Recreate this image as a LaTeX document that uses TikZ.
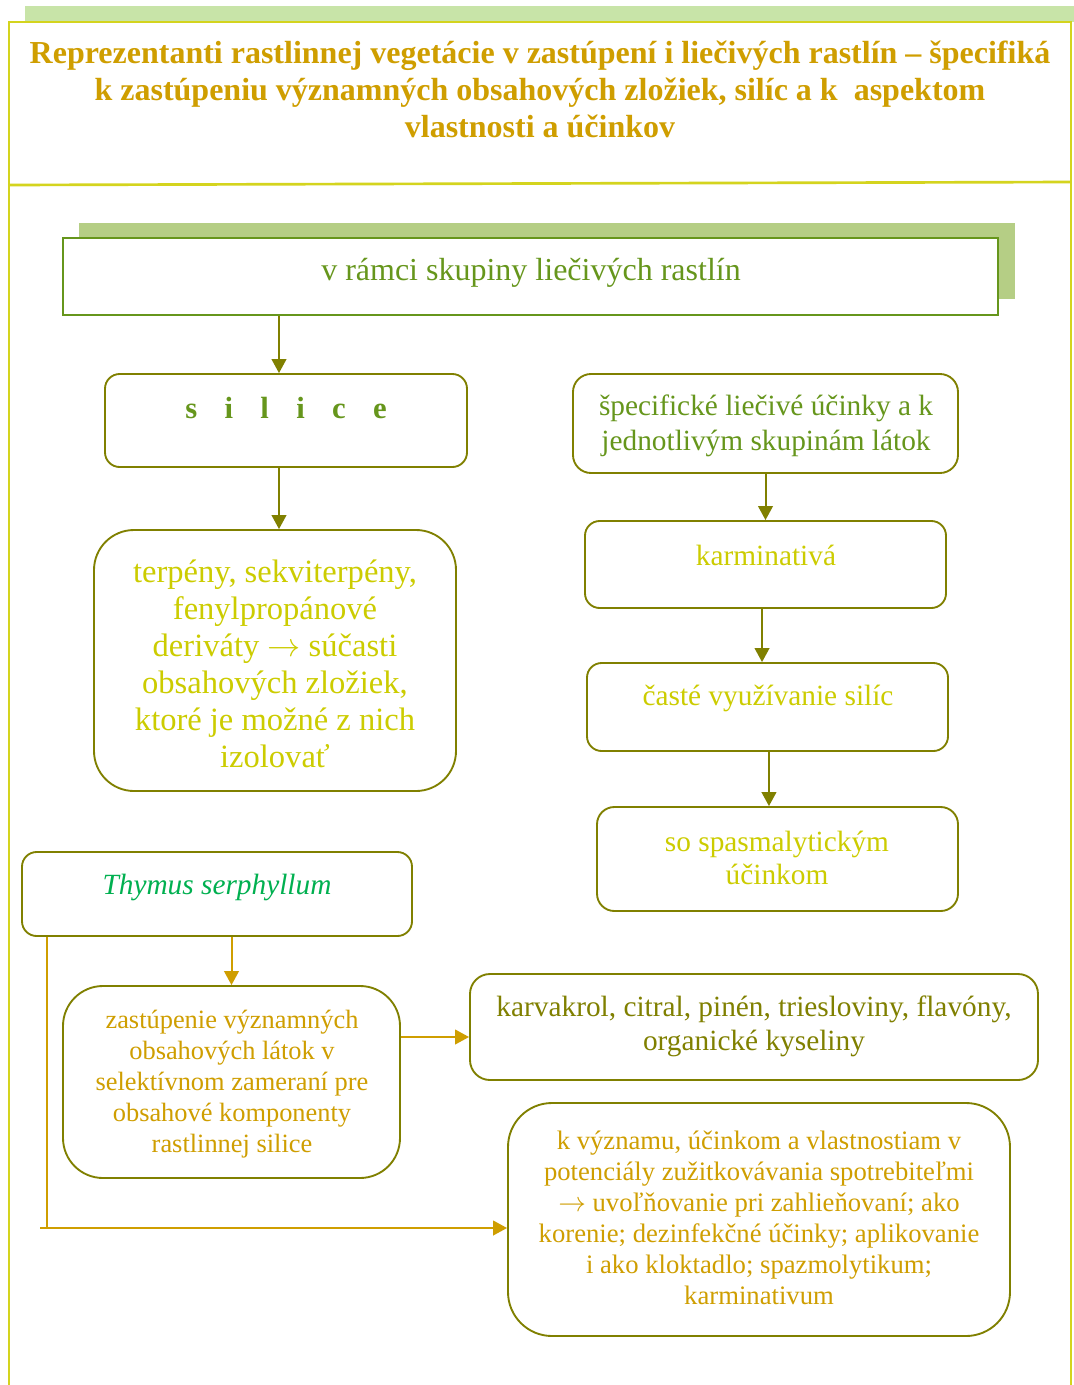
\documentclass[tikz,border=0pt]{standalone}
\usepackage{fontspec}
\setmainfont{Liberation Serif}
\usetikzlibrary{arrows.meta,calc}
\definecolor{gold}{RGB}{207,158,0}
\definecolor{olivel}{RGB}{128,128,0}
\definecolor{leaf}{RGB}{102,150,28}
\definecolor{lemon}{RGB}{204,204,0}
\definecolor{framec}{RGB}{212,212,30}
\definecolor{barfill}{RGB}{200,228,168}
\definecolor{shadowfill}{RGB}{181,206,133}
\definecolor{thyme}{RGB}{0,176,80}
\begin{document}
\begin{tikzpicture}[x=0.75pt,y=-0.75pt,
  box/.style={draw=olivel,line width=1.4pt,fill=white,inner sep=0pt},
  rbox/.style={box,rounded corners=#1},
  txt/.style={align=center,inner sep=0pt},
  arr/.style={draw=olivel,line width=1.5pt,-{Triangle[length=10.5pt,width=11pt]}},
  garr/.style={draw=gold,line width=1.5pt,-{Triangle[length=10.5pt,width=11pt]}},
  gline/.style={draw=gold,line width=1.5pt}]
\useasboundingbox (0,0) rectangle (1074,1385);
\fill[white] (0,0) rectangle (1074,1385);

% page frame with header band
\fill[barfill] (25,6) rectangle (1074,22);
\draw[framec,line width=2pt] (9,1385) -- (9,22) -- (1071,22) -- (1071,1385);
\draw[framec,line width=2pt] (9,185) -- (1071,182);

\node[txt,font=\fontsize{24pt}{27.75pt}\selectfont\bfseries,text=gold] (title) at (540,89)
  {Reprezentanti rastlinnej vegetácie v zastúpení i liečivých rastlín – špecifiká\\
   k zastúpeniu významných obsahových zložiek, silíc a k\ \ aspektom\\
   vlastnosti a účinkov};

% group heading with its shadow
\fill[shadowfill] (79,223) rectangle (1015,299);
\node[box,draw=leaf,minimum width=701.25pt,minimum height=57.75pt] (main) at (530.5,276.5) {};
\node[txt,font=\fontsize{24pt}{28pt}\selectfont,text=leaf] (maint) at (531,273) {v rámci skupiny liečivých rastlín};

% left column
\node[rbox=11pt,minimum width=271.5pt,minimum height=69.75pt] (silice) at (286,420.5) {};
\node[txt,font=\fontsize{23pt}{28pt}\selectfont\bfseries,text=leaf] (silicet) at (286,408)
  {s\hspace{20.5pt}i\hspace{20.5pt}l\hspace{20.5pt}i\hspace{20.5pt}c\hspace{20.5pt}e};

\node[rbox=30pt,minimum width=271.5pt,minimum height=195.75pt] (terp) at (275,660.5) {};
\node[txt,font=\fontsize{24.4pt}{27.75pt}\selectfont,text=lemon] (terpt) at (275,664)
  {terpény, sekviterpény,\\ fenylpropánové\\ deriváty $\rightarrow$ súčasti\\ obsahových zložiek,\\ ktoré je možné z nich\\ izolovať};

% right column
\node[rbox=13.5pt,minimum width=288.75pt,minimum height=74.25pt] (spec) at (765.5,423.5) {};
\node[txt,font=\fontsize{22pt}{26.25pt}\selectfont,text=leaf] (spect) at (766,426)
  {špecifické liečivé účinky a k\\ jednotlivým skupinám látok};

\node[rbox=11pt,minimum width=270.75pt,minimum height=65.25pt] (karm) at (765.5,564.5) {};
\node[txt,font=\fontsize{22pt}{26pt}\selectfont,text=lemon] (karmt) at (766,555) {karminativá};

\node[rbox=11pt,minimum width=270.75pt,minimum height=66pt] (caste) at (767.5,707) {};
\node[txt,font=\fontsize{22pt}{26pt}\selectfont,text=lemon] (castet) at (768,698) {časté využívanie silíc};

\node[rbox=13pt,minimum width=270.75pt,minimum height=78pt] (spasm) at (777.5,859) {};
\node[txt,font=\fontsize{22pt}{24.75pt}\selectfont,text=lemon] (spasmt) at (777,858)
  {so spasmalytickým\\ účinkom};

% Thymus branch
\node[rbox=11pt,minimum width=292.5pt,minimum height=63pt] (thym) at (217,894) {};
\node[txt,font=\fontsize{22pt}{26pt}\selectfont\itshape,text=thyme] (thymt) at (217,887) {Thymus serphyllum};

\node[rbox=30pt,minimum width=252.75pt,minimum height=144pt] (zast) at (231.5,1082) {};
\node[txt,font=\fontsize{19.8pt}{23.25pt}\selectfont,text=gold] (zastt) at (232,1084)
  {zastúpenie významných\\ obsahových látok v\\ selektívnom zameraní pre\\ obsahové komponenty\\ rastlinnej silice};

\node[rbox=15pt,minimum width=426pt,minimum height=79.5pt] (karv) at (754,1027) {};
\node[txt,font=\fontsize{22pt}{25.5pt}\selectfont,text=olivel] (karvt) at (754,1026)
  {karvakrol, citral, pinén, triesloviny, flavóny,\\ organické kyseliny};

\node[rbox=33pt,minimum width=376.5pt,minimum height=174.75pt] (kvyz) at (759,1219.5) {};
\node[txt,font=\fontsize{20pt}{23.25pt}\selectfont,text=gold] (kvyzt) at (759,1218)
  {k významu, účinkom a vlastnostiam v\\ potenciály zužitkovávania spotrebiteľmi\\
   $\rightarrow$ uvoľňovanie pri zahlieňovaní; ako\\ korenie; dezinfekčné účinky; aplikovanie\\
   i ako kloktadlo; spazmolytikum;\\ karminativum};

% connectors
\draw[arr] ([xshift=-5.25pt]silice.north |- main.south) -- ([xshift=-5.25pt]silice.north);
\draw[arr] ([xshift=-5.25pt]silice.south) -- ([xshift=-5.25pt]silice.south |- terp.north);
\draw[arr] (spec.south) -- (spec.south |- karm.north);
\draw[arr] ([xshift=-2.6pt]karm.south) -- ([xshift=-2.6pt]karm.south |- caste.north);
\draw[arr] ([xshift=1.1pt]caste.south) -- ([xshift=1.1pt]caste.south |- spasm.north);

\draw[garr] (zast.north |- thym.south) -- (zast.north);
\draw[garr] ([yshift=33.75pt]zast.east) -- ([yshift=33.75pt]zast.east -| karv.west);
\coordinate (bend) at (47,1228);
\coordinate (tail) at (40,1228);
\draw[gline] (thym.south -| bend) -- (bend);
\draw[garr] (tail) -- (tail -| kvyz.west);
\end{tikzpicture}
\end{document}
